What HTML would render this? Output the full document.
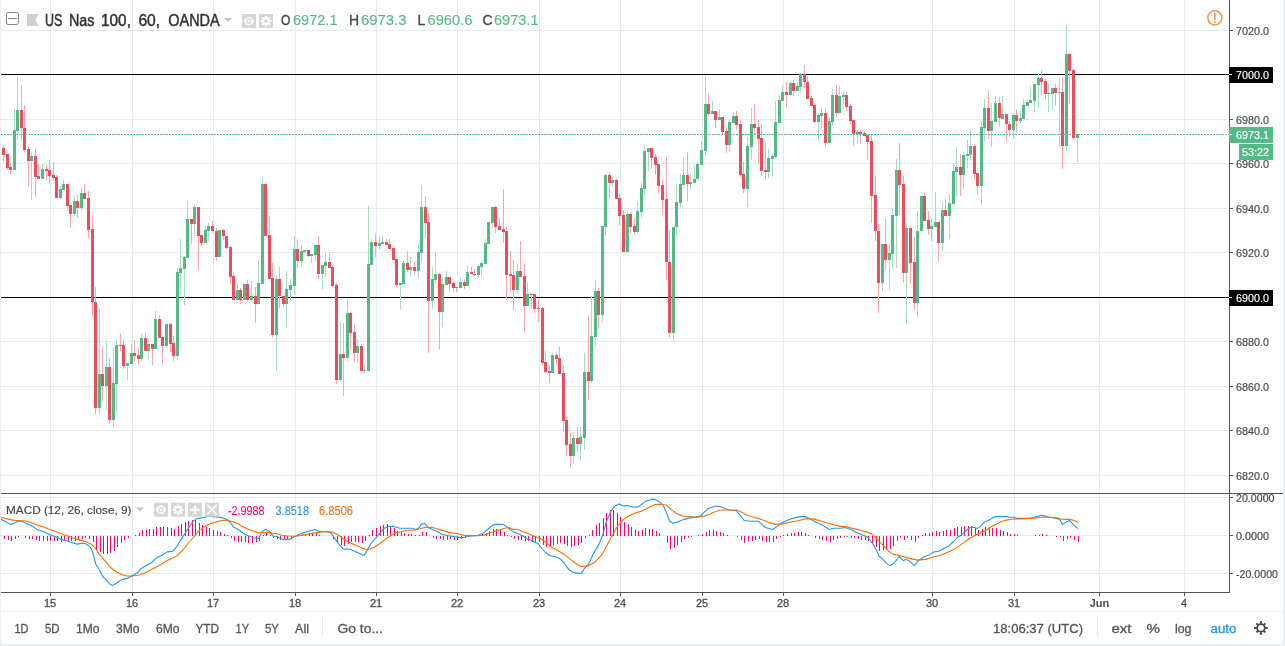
<!DOCTYPE html>
<html><head><meta charset="utf-8"><title>US Nas 100, 60, OANDA</title>
<style>html,body{margin:0;padding:0;background:#eceff2;overflow:hidden}svg{display:block}text{font-family:"Liberation Sans",sans-serif;}</style></head><body>
<svg width="1285" height="646" viewBox="0 0 1285 646">
<rect x="0" y="0" width="1285" height="646" fill="#eceff2"/>
<path d="M1 0H1283V641Q1283 644 1280 644H4Q1 644 1 641Z" fill="#fff"/>
<g shape-rendering="crispEdges">
<rect x="1" y="30" width="1227" height="1" fill="#e1ecf2"/>
<rect x="1" y="119" width="1227" height="1" fill="#e1ecf2"/>
<rect x="1" y="163" width="1227" height="1" fill="#e1ecf2"/>
<rect x="1" y="208" width="1227" height="1" fill="#e1ecf2"/>
<rect x="1" y="252" width="1227" height="1" fill="#e1ecf2"/>
<rect x="1" y="341" width="1227" height="1" fill="#e1ecf2"/>
<rect x="1" y="386" width="1227" height="1" fill="#e1ecf2"/>
<rect x="1" y="430" width="1227" height="1" fill="#e1ecf2"/>
<rect x="1" y="475" width="1227" height="1" fill="#e1ecf2"/>
<rect x="1" y="497" width="1227" height="1" fill="#e1ecf2"/>
<rect x="1" y="535" width="1227" height="1" fill="#e1ecf2"/>
<rect x="1" y="573" width="1227" height="1" fill="#e1ecf2"/>
<rect x="50" y="0" width="1" height="492" fill="#e1ecf2"/>
<rect x="50" y="494" width="1" height="98" fill="#e1ecf2"/>
<rect x="132" y="0" width="1" height="492" fill="#e1ecf2"/>
<rect x="132" y="494" width="1" height="98" fill="#e1ecf2"/>
<rect x="213" y="0" width="1" height="492" fill="#e1ecf2"/>
<rect x="213" y="494" width="1" height="98" fill="#e1ecf2"/>
<rect x="295" y="0" width="1" height="492" fill="#e1ecf2"/>
<rect x="295" y="494" width="1" height="98" fill="#e1ecf2"/>
<rect x="376" y="0" width="1" height="492" fill="#e1ecf2"/>
<rect x="376" y="494" width="1" height="98" fill="#e1ecf2"/>
<rect x="457" y="0" width="1" height="492" fill="#e1ecf2"/>
<rect x="457" y="494" width="1" height="98" fill="#e1ecf2"/>
<rect x="539" y="0" width="1" height="492" fill="#e1ecf2"/>
<rect x="539" y="494" width="1" height="98" fill="#e1ecf2"/>
<rect x="620" y="0" width="1" height="492" fill="#e1ecf2"/>
<rect x="620" y="494" width="1" height="98" fill="#e1ecf2"/>
<rect x="702" y="0" width="1" height="492" fill="#e1ecf2"/>
<rect x="702" y="494" width="1" height="98" fill="#e1ecf2"/>
<rect x="783" y="0" width="1" height="492" fill="#e1ecf2"/>
<rect x="783" y="494" width="1" height="98" fill="#e1ecf2"/>
<rect x="932" y="0" width="1" height="492" fill="#e1ecf2"/>
<rect x="932" y="494" width="1" height="98" fill="#e1ecf2"/>
<rect x="1014" y="0" width="1" height="492" fill="#e1ecf2"/>
<rect x="1014" y="494" width="1" height="98" fill="#e1ecf2"/>
<rect x="1099" y="0" width="1" height="492" fill="#e1ecf2"/>
<rect x="1099" y="494" width="1" height="98" fill="#e1ecf2"/>
<rect x="1184" y="0" width="1" height="492" fill="#e1ecf2"/>
<rect x="1184" y="494" width="1" height="98" fill="#e1ecf2"/>
<rect x="1" y="74" width="1228" height="1" fill="#000"/>
<rect x="1" y="297" width="1228" height="1" fill="#000"/>
<g id="wicks"><rect x="3" y="145" width="1" height="17" fill="#f5a6ae"/><rect x="7" y="154" width="1" height="16" fill="#f5a6ae"/><rect x="10" y="163" width="1" height="11" fill="#f5a6ae"/><rect x="14" y="109" width="1" height="61" fill="#a9dcc3"/><rect x="17" y="77" width="1" height="63" fill="#a9dcc3"/><rect x="21" y="85" width="1" height="55" fill="#f5a6ae"/><rect x="24" y="105" width="1" height="47" fill="#f5a6ae"/><rect x="28" y="147" width="1" height="40" fill="#f5a6ae"/><rect x="31" y="153" width="1" height="47" fill="#a9dcc3"/><rect x="35" y="149" width="1" height="48" fill="#f5a6ae"/><rect x="38" y="164" width="1" height="15" fill="#f5a6ae"/><rect x="42" y="164" width="1" height="15" fill="#a9dcc3"/><rect x="46" y="166" width="1" height="14" fill="#f5a6ae"/><rect x="49" y="160" width="1" height="23" fill="#f5a6ae"/><rect x="53" y="162" width="1" height="18" fill="#f5a6ae"/><rect x="56" y="175" width="1" height="23" fill="#f5a6ae"/><rect x="60" y="186" width="1" height="13" fill="#a9dcc3"/><rect x="63" y="180" width="1" height="10" fill="#a9dcc3"/><rect x="67" y="184" width="1" height="27" fill="#f5a6ae"/><rect x="70" y="205" width="1" height="23" fill="#f5a6ae"/><rect x="74" y="196" width="1" height="20" fill="#a9dcc3"/><rect x="77" y="195" width="1" height="23" fill="#f5a6ae"/><rect x="81" y="187" width="1" height="24" fill="#a9dcc3"/><rect x="84" y="184" width="1" height="15" fill="#f5a6ae"/><rect x="88" y="191" width="1" height="47" fill="#f5a6ae"/><rect x="92" y="215" width="1" height="102" fill="#f5a6ae"/><rect x="95" y="287" width="1" height="127" fill="#f5a6ae"/><rect x="99" y="308" width="1" height="106" fill="#a9dcc3"/><rect x="102" y="346" width="1" height="55" fill="#f5a6ae"/><rect x="106" y="341" width="1" height="69" fill="#a9dcc3"/><rect x="109" y="358" width="1" height="66" fill="#f5a6ae"/><rect x="113" y="347" width="1" height="80" fill="#a9dcc3"/><rect x="116" y="339" width="1" height="74" fill="#a9dcc3"/><rect x="120" y="333" width="1" height="18" fill="#f5a6ae"/><rect x="123" y="339" width="1" height="30" fill="#f5a6ae"/><rect x="127" y="363" width="1" height="17" fill="#a9dcc3"/><rect x="131" y="344" width="1" height="20" fill="#a9dcc3"/><rect x="134" y="340" width="1" height="21" fill="#f5a6ae"/><rect x="138" y="347" width="1" height="18" fill="#f5a6ae"/><rect x="141" y="334" width="1" height="27" fill="#a9dcc3"/><rect x="145" y="333" width="1" height="18" fill="#f5a6ae"/><rect x="148" y="339" width="1" height="20" fill="#a9dcc3"/><rect x="152" y="344" width="1" height="21" fill="#f5a6ae"/><rect x="155" y="311" width="1" height="38" fill="#a9dcc3"/><rect x="159" y="315" width="1" height="23" fill="#f5a6ae"/><rect x="162" y="337" width="1" height="28" fill="#f5a6ae"/><rect x="166" y="323" width="1" height="26" fill="#a9dcc3"/><rect x="170" y="323" width="1" height="29" fill="#f5a6ae"/><rect x="173" y="336" width="1" height="25" fill="#f5a6ae"/><rect x="177" y="267" width="1" height="93" fill="#a9dcc3"/><rect x="180" y="239" width="1" height="56" fill="#a9dcc3"/><rect x="184" y="256" width="1" height="49" fill="#a9dcc3"/><rect x="187" y="201" width="1" height="57" fill="#a9dcc3"/><rect x="191" y="219" width="1" height="25" fill="#f5a6ae"/><rect x="194" y="204" width="1" height="32" fill="#a9dcc3"/><rect x="198" y="207" width="1" height="63" fill="#f5a6ae"/><rect x="201" y="235" width="1" height="11" fill="#f5a6ae"/><rect x="205" y="226" width="1" height="17" fill="#a9dcc3"/><rect x="208" y="223" width="1" height="18" fill="#a9dcc3"/><rect x="212" y="221" width="1" height="12" fill="#f5a6ae"/><rect x="216" y="228" width="1" height="33" fill="#f5a6ae"/><rect x="223" y="229" width="1" height="11" fill="#f5a6ae"/><rect x="226" y="236" width="1" height="13" fill="#f5a6ae"/><rect x="230" y="246" width="1" height="38" fill="#f5a6ae"/><rect x="233" y="273" width="1" height="27" fill="#f5a6ae"/><rect x="237" y="283" width="1" height="17" fill="#a9dcc3"/><rect x="240" y="288" width="1" height="16" fill="#f5a6ae"/><rect x="244" y="283" width="1" height="17" fill="#a9dcc3"/><rect x="247" y="280" width="1" height="22" fill="#f5a6ae"/><rect x="251" y="281" width="1" height="21" fill="#a9dcc3"/><rect x="255" y="287" width="1" height="36" fill="#f5a6ae"/><rect x="258" y="260" width="1" height="44" fill="#a9dcc3"/><rect x="262" y="178" width="1" height="106" fill="#a9dcc3"/><rect x="265" y="183" width="1" height="53" fill="#f5a6ae"/><rect x="269" y="216" width="1" height="63" fill="#f5a6ae"/><rect x="272" y="263" width="1" height="74" fill="#f5a6ae"/><rect x="276" y="275" width="1" height="96" fill="#a9dcc3"/><rect x="279" y="267" width="1" height="41" fill="#f5a6ae"/><rect x="283" y="296" width="1" height="11" fill="#f5a6ae"/><rect x="286" y="271" width="1" height="56" fill="#a9dcc3"/><rect x="290" y="279" width="1" height="21" fill="#a9dcc3"/><rect x="294" y="236" width="1" height="59" fill="#a9dcc3"/><rect x="297" y="239" width="1" height="29" fill="#f5a6ae"/><rect x="301" y="245" width="1" height="22" fill="#a9dcc3"/><rect x="308" y="250" width="1" height="7" fill="#f5a6ae"/><rect x="311" y="254" width="1" height="9" fill="#a9dcc3"/><rect x="315" y="245" width="1" height="16" fill="#a9dcc3"/><rect x="318" y="236" width="1" height="43" fill="#f5a6ae"/><rect x="322" y="265" width="1" height="24" fill="#a9dcc3"/><rect x="325" y="252" width="1" height="25" fill="#a9dcc3"/><rect x="329" y="254" width="1" height="14" fill="#f5a6ae"/><rect x="332" y="265" width="1" height="22" fill="#f5a6ae"/><rect x="336" y="283" width="1" height="101" fill="#f5a6ae"/><rect x="340" y="322" width="1" height="60" fill="#a9dcc3"/><rect x="343" y="323" width="1" height="73" fill="#f5a6ae"/><rect x="347" y="299" width="1" height="62" fill="#a9dcc3"/><rect x="350" y="312" width="1" height="38" fill="#f5a6ae"/><rect x="354" y="324" width="1" height="38" fill="#f5a6ae"/><rect x="357" y="339" width="1" height="24" fill="#a9dcc3"/><rect x="361" y="344" width="1" height="29" fill="#f5a6ae"/><rect x="364" y="363" width="1" height="10" fill="#a9dcc3"/><rect x="368" y="206" width="1" height="165" fill="#a9dcc3"/><rect x="371" y="239" width="1" height="26" fill="#a9dcc3"/><rect x="375" y="234" width="1" height="23" fill="#f5a6ae"/><rect x="379" y="236" width="1" height="14" fill="#a9dcc3"/><rect x="382" y="236" width="1" height="8" fill="#a9dcc3"/><rect x="386" y="239" width="1" height="6" fill="#f5a6ae"/><rect x="389" y="239" width="1" height="10" fill="#f5a6ae"/><rect x="393" y="247" width="1" height="13" fill="#f5a6ae"/><rect x="396" y="259" width="1" height="28" fill="#f5a6ae"/><rect x="400" y="283" width="1" height="27" fill="#a9dcc3"/><rect x="403" y="260" width="1" height="24" fill="#a9dcc3"/><rect x="407" y="251" width="1" height="21" fill="#f5a6ae"/><rect x="410" y="257" width="1" height="19" fill="#a9dcc3"/><rect x="414" y="261" width="1" height="13" fill="#f5a6ae"/><rect x="418" y="243" width="1" height="35" fill="#a9dcc3"/><rect x="421" y="185" width="1" height="77" fill="#a9dcc3"/><rect x="425" y="196" width="1" height="42" fill="#f5a6ae"/><rect x="428" y="213" width="1" height="140" fill="#f5a6ae"/><rect x="432" y="267" width="1" height="42" fill="#a9dcc3"/><rect x="435" y="252" width="1" height="32" fill="#a9dcc3"/><rect x="439" y="273" width="1" height="76" fill="#f5a6ae"/><rect x="442" y="278" width="1" height="49" fill="#a9dcc3"/><rect x="446" y="271" width="1" height="14" fill="#a9dcc3"/><rect x="449" y="277" width="1" height="14" fill="#f5a6ae"/><rect x="453" y="282" width="1" height="10" fill="#f5a6ae"/><rect x="456" y="287" width="1" height="5" fill="#f5a6ae"/><rect x="460" y="277" width="1" height="11" fill="#a9dcc3"/><rect x="464" y="279" width="1" height="10" fill="#f5a6ae"/><rect x="467" y="266" width="1" height="20" fill="#a9dcc3"/><rect x="471" y="267" width="1" height="7" fill="#f5a6ae"/><rect x="474" y="269" width="1" height="7" fill="#f5a6ae"/><rect x="478" y="265" width="1" height="13" fill="#a9dcc3"/><rect x="481" y="261" width="1" height="17" fill="#a9dcc3"/><rect x="485" y="239" width="1" height="25" fill="#a9dcc3"/><rect x="492" y="207" width="1" height="21" fill="#a9dcc3"/><rect x="495" y="206" width="1" height="27" fill="#f5a6ae"/><rect x="499" y="218" width="1" height="12" fill="#f5a6ae"/><rect x="503" y="189" width="1" height="54" fill="#f5a6ae"/><rect x="506" y="227" width="1" height="71" fill="#f5a6ae"/><rect x="510" y="251" width="1" height="42" fill="#f5a6ae"/><rect x="513" y="260" width="1" height="50" fill="#f5a6ae"/><rect x="517" y="264" width="1" height="30" fill="#a9dcc3"/><rect x="520" y="241" width="1" height="36" fill="#f5a6ae"/><rect x="524" y="263" width="1" height="70" fill="#f5a6ae"/><rect x="527" y="282" width="1" height="24" fill="#a9dcc3"/><rect x="531" y="293" width="1" height="16" fill="#f5a6ae"/><rect x="534" y="294" width="1" height="19" fill="#f5a6ae"/><rect x="538" y="299" width="1" height="23" fill="#f5a6ae"/><rect x="542" y="307" width="1" height="58" fill="#f5a6ae"/><rect x="545" y="351" width="1" height="22" fill="#f5a6ae"/><rect x="549" y="366" width="1" height="17" fill="#f5a6ae"/><rect x="552" y="353" width="1" height="20" fill="#a9dcc3"/><rect x="556" y="353" width="1" height="12" fill="#f5a6ae"/><rect x="559" y="347" width="1" height="27" fill="#f5a6ae"/><rect x="563" y="365" width="1" height="67" fill="#f5a6ae"/><rect x="566" y="417" width="1" height="39" fill="#f5a6ae"/><rect x="570" y="433" width="1" height="34" fill="#f5a6ae"/><rect x="573" y="432" width="1" height="32" fill="#a9dcc3"/><rect x="577" y="427" width="1" height="26" fill="#f5a6ae"/><rect x="580" y="427" width="1" height="33" fill="#a9dcc3"/><rect x="584" y="353" width="1" height="97" fill="#a9dcc3"/><rect x="588" y="315" width="1" height="85" fill="#f5a6ae"/><rect x="591" y="296" width="1" height="87" fill="#a9dcc3"/><rect x="595" y="280" width="1" height="66" fill="#a9dcc3"/><rect x="598" y="288" width="1" height="41" fill="#f5a6ae"/><rect x="602" y="226" width="1" height="96" fill="#a9dcc3"/><rect x="605" y="174" width="1" height="62" fill="#a9dcc3"/><rect x="609" y="172" width="1" height="27" fill="#f5a6ae"/><rect x="612" y="177" width="1" height="10" fill="#a9dcc3"/><rect x="616" y="179" width="1" height="20" fill="#f5a6ae"/><rect x="619" y="193" width="1" height="32" fill="#f5a6ae"/><rect x="623" y="210" width="1" height="42" fill="#f5a6ae"/><rect x="627" y="211" width="1" height="41" fill="#a9dcc3"/><rect x="630" y="212" width="1" height="22" fill="#f5a6ae"/><rect x="634" y="218" width="1" height="16" fill="#f5a6ae"/><rect x="637" y="201" width="1" height="32" fill="#a9dcc3"/><rect x="641" y="182" width="1" height="36" fill="#a9dcc3"/><rect x="644" y="145" width="1" height="52" fill="#a9dcc3"/><rect x="648" y="148" width="1" height="23" fill="#a9dcc3"/><rect x="651" y="148" width="1" height="21" fill="#f5a6ae"/><rect x="655" y="154" width="1" height="21" fill="#f5a6ae"/><rect x="658" y="164" width="1" height="29" fill="#f5a6ae"/><rect x="662" y="180" width="1" height="35" fill="#f5a6ae"/><rect x="666" y="157" width="1" height="123" fill="#f5a6ae"/><rect x="669" y="230" width="1" height="108" fill="#f5a6ae"/><rect x="673" y="227" width="1" height="114" fill="#a9dcc3"/><rect x="676" y="185" width="1" height="52" fill="#a9dcc3"/><rect x="680" y="174" width="1" height="33" fill="#a9dcc3"/><rect x="683" y="157" width="1" height="28" fill="#a9dcc3"/><rect x="687" y="152" width="1" height="49" fill="#f5a6ae"/><rect x="690" y="174" width="1" height="15" fill="#a9dcc3"/><rect x="694" y="166" width="1" height="17" fill="#a9dcc3"/><rect x="697" y="162" width="1" height="17" fill="#a9dcc3"/><rect x="701" y="141" width="1" height="24" fill="#a9dcc3"/><rect x="705" y="76" width="1" height="81" fill="#a9dcc3"/><rect x="708" y="94" width="1" height="21" fill="#f5a6ae"/><rect x="712" y="101" width="1" height="13" fill="#a9dcc3"/><rect x="715" y="111" width="1" height="17" fill="#f5a6ae"/><rect x="719" y="109" width="1" height="11" fill="#a9dcc3"/><rect x="722" y="117" width="1" height="17" fill="#f5a6ae"/><rect x="726" y="127" width="1" height="26" fill="#f5a6ae"/><rect x="729" y="120" width="1" height="32" fill="#a9dcc3"/><rect x="733" y="112" width="1" height="12" fill="#a9dcc3"/><rect x="736" y="111" width="1" height="19" fill="#f5a6ae"/><rect x="740" y="120" width="1" height="57" fill="#f5a6ae"/><rect x="743" y="162" width="1" height="31" fill="#f5a6ae"/><rect x="747" y="137" width="1" height="70" fill="#a9dcc3"/><rect x="751" y="108" width="1" height="52" fill="#a9dcc3"/><rect x="754" y="104" width="1" height="30" fill="#f5a6ae"/><rect x="758" y="120" width="1" height="43" fill="#f5a6ae"/><rect x="761" y="124" width="1" height="52" fill="#f5a6ae"/><rect x="765" y="143" width="1" height="36" fill="#f5a6ae"/><rect x="768" y="149" width="1" height="29" fill="#a9dcc3"/><rect x="772" y="154" width="1" height="22" fill="#a9dcc3"/><rect x="775" y="101" width="1" height="57" fill="#a9dcc3"/><rect x="779" y="95" width="1" height="28" fill="#a9dcc3"/><rect x="782" y="86" width="1" height="15" fill="#a9dcc3"/><rect x="786" y="82" width="1" height="26" fill="#f5a6ae"/><rect x="790" y="82" width="1" height="14" fill="#a9dcc3"/><rect x="793" y="80" width="1" height="16" fill="#f5a6ae"/><rect x="797" y="83" width="1" height="8" fill="#a9dcc3"/><rect x="800" y="73" width="1" height="20" fill="#a9dcc3"/><rect x="804" y="65" width="1" height="23" fill="#f5a6ae"/><rect x="807" y="77" width="1" height="22" fill="#f5a6ae"/><rect x="811" y="95" width="1" height="11" fill="#f5a6ae"/><rect x="814" y="103" width="1" height="20" fill="#f5a6ae"/><rect x="818" y="113" width="1" height="28" fill="#a9dcc3"/><rect x="821" y="108" width="1" height="22" fill="#a9dcc3"/><rect x="825" y="108" width="1" height="39" fill="#f5a6ae"/><rect x="829" y="118" width="1" height="25" fill="#a9dcc3"/><rect x="832" y="89" width="1" height="37" fill="#a9dcc3"/><rect x="836" y="85" width="1" height="32" fill="#f5a6ae"/><rect x="839" y="86" width="1" height="28" fill="#a9dcc3"/><rect x="843" y="92" width="1" height="17" fill="#a9dcc3"/><rect x="846" y="92" width="1" height="19" fill="#f5a6ae"/><rect x="850" y="104" width="1" height="20" fill="#f5a6ae"/><rect x="853" y="120" width="1" height="26" fill="#f5a6ae"/><rect x="857" y="130" width="1" height="14" fill="#a9dcc3"/><rect x="860" y="130" width="1" height="13" fill="#f5a6ae"/><rect x="864" y="131" width="1" height="5" fill="#f5a6ae"/><rect x="867" y="135" width="1" height="25" fill="#f5a6ae"/><rect x="871" y="135" width="1" height="88" fill="#f5a6ae"/><rect x="875" y="176" width="1" height="65" fill="#f5a6ae"/><rect x="878" y="224" width="1" height="89" fill="#f5a6ae"/><rect x="882" y="244" width="1" height="47" fill="#a9dcc3"/><rect x="885" y="218" width="1" height="52" fill="#f5a6ae"/><rect x="889" y="243" width="1" height="47" fill="#a9dcc3"/><rect x="892" y="208" width="1" height="61" fill="#a9dcc3"/><rect x="896" y="159" width="1" height="109" fill="#a9dcc3"/><rect x="899" y="143" width="1" height="72" fill="#f5a6ae"/><rect x="903" y="176" width="1" height="107" fill="#f5a6ae"/><rect x="906" y="223" width="1" height="101" fill="#a9dcc3"/><rect x="910" y="227" width="1" height="57" fill="#f5a6ae"/><rect x="914" y="237" width="1" height="73" fill="#f5a6ae"/><rect x="917" y="211" width="1" height="106" fill="#a9dcc3"/><rect x="921" y="195" width="1" height="36" fill="#a9dcc3"/><rect x="924" y="193" width="1" height="28" fill="#f5a6ae"/><rect x="928" y="211" width="1" height="24" fill="#f5a6ae"/><rect x="931" y="219" width="1" height="22" fill="#a9dcc3"/><rect x="935" y="192" width="1" height="35" fill="#a9dcc3"/><rect x="938" y="222" width="1" height="40" fill="#f5a6ae"/><rect x="942" y="202" width="1" height="49" fill="#a9dcc3"/><rect x="945" y="199" width="1" height="17" fill="#f5a6ae"/><rect x="949" y="195" width="1" height="44" fill="#a9dcc3"/><rect x="953" y="163" width="1" height="41" fill="#a9dcc3"/><rect x="956" y="147" width="1" height="49" fill="#a9dcc3"/><rect x="960" y="154" width="1" height="42" fill="#f5a6ae"/><rect x="963" y="152" width="1" height="37" fill="#a9dcc3"/><rect x="967" y="140" width="1" height="28" fill="#a9dcc3"/><rect x="970" y="130" width="1" height="30" fill="#a9dcc3"/><rect x="974" y="144" width="1" height="35" fill="#f5a6ae"/><rect x="977" y="173" width="1" height="22" fill="#f5a6ae"/><rect x="981" y="121" width="1" height="84" fill="#a9dcc3"/><rect x="984" y="99" width="1" height="42" fill="#a9dcc3"/><rect x="988" y="90" width="1" height="49" fill="#f5a6ae"/><rect x="991" y="103" width="1" height="44" fill="#a9dcc3"/><rect x="995" y="96" width="1" height="26" fill="#a9dcc3"/><rect x="999" y="97" width="1" height="29" fill="#f5a6ae"/><rect x="1002" y="96" width="1" height="23" fill="#a9dcc3"/><rect x="1006" y="114" width="1" height="28" fill="#f5a6ae"/><rect x="1009" y="121" width="1" height="16" fill="#f5a6ae"/><rect x="1013" y="113" width="1" height="26" fill="#a9dcc3"/><rect x="1016" y="109" width="1" height="24" fill="#f5a6ae"/><rect x="1020" y="111" width="1" height="13" fill="#a9dcc3"/><rect x="1023" y="99" width="1" height="20" fill="#a9dcc3"/><rect x="1027" y="99" width="1" height="7" fill="#a9dcc3"/><rect x="1030" y="86" width="1" height="17" fill="#a9dcc3"/><rect x="1034" y="84" width="1" height="28" fill="#a9dcc3"/><rect x="1038" y="73" width="1" height="35" fill="#a9dcc3"/><rect x="1041" y="70" width="1" height="26" fill="#f5a6ae"/><rect x="1045" y="79" width="1" height="20" fill="#f5a6ae"/><rect x="1048" y="83" width="1" height="29" fill="#a9dcc3"/><rect x="1052" y="88" width="1" height="22" fill="#a9dcc3"/><rect x="1055" y="84" width="1" height="22" fill="#f5a6ae"/><rect x="1059" y="78" width="1" height="70" fill="#a9dcc3"/><rect x="1062" y="78" width="1" height="91" fill="#f5a6ae"/><rect x="1066" y="25" width="1" height="126" fill="#a9dcc3"/><rect x="1069" y="53" width="1" height="51" fill="#f5a6ae"/><rect x="1073" y="69" width="1" height="71" fill="#f5a6ae"/><rect x="1077" y="134" width="1" height="28" fill="#a9dcc3"/></g>
<g id="bodies"><rect x="2" y="148" width="3" height="7" fill="#eb4d5c"/><rect x="6" y="154" width="3" height="14" fill="#eb4d5c"/><rect x="9" y="167" width="3" height="3" fill="#eb4d5c"/><rect x="13" y="130" width="3" height="40" fill="#53b987"/><rect x="16" y="110" width="3" height="21" fill="#53b987"/><rect x="20" y="110" width="3" height="18" fill="#eb4d5c"/><rect x="23" y="128" width="3" height="22" fill="#eb4d5c"/><rect x="27" y="149" width="3" height="12" fill="#eb4d5c"/><rect x="30" y="156" width="3" height="5" fill="#53b987"/><rect x="34" y="156" width="3" height="21" fill="#eb4d5c"/><rect x="37" y="176" width="3" height="3" fill="#eb4d5c"/><rect x="41" y="169" width="3" height="10" fill="#53b987"/><rect x="45" y="169" width="3" height="2" fill="#eb4d5c"/><rect x="48" y="170" width="3" height="6" fill="#eb4d5c"/><rect x="52" y="175" width="3" height="3" fill="#eb4d5c"/><rect x="55" y="177" width="3" height="21" fill="#eb4d5c"/><rect x="59" y="189" width="3" height="9" fill="#53b987"/><rect x="62" y="184" width="3" height="6" fill="#53b987"/><rect x="66" y="184" width="3" height="22" fill="#eb4d5c"/><rect x="69" y="205" width="3" height="9" fill="#eb4d5c"/><rect x="73" y="201" width="3" height="13" fill="#53b987"/><rect x="76" y="201" width="3" height="7" fill="#eb4d5c"/><rect x="80" y="193" width="3" height="15" fill="#53b987"/><rect x="83" y="193" width="3" height="6" fill="#eb4d5c"/><rect x="87" y="198" width="3" height="32" fill="#eb4d5c"/><rect x="91" y="229" width="3" height="73" fill="#eb4d5c"/><rect x="94" y="302" width="3" height="106" fill="#eb4d5c"/><rect x="98" y="374" width="3" height="34" fill="#53b987"/><rect x="101" y="374" width="3" height="12" fill="#eb4d5c"/><rect x="105" y="367" width="3" height="19" fill="#53b987"/><rect x="108" y="367" width="3" height="53" fill="#eb4d5c"/><rect x="112" y="383" width="3" height="37" fill="#53b987"/><rect x="115" y="345" width="3" height="39" fill="#53b987"/><rect x="119" y="345" width="3" height="1" fill="#eb4d5c"/><rect x="122" y="345" width="3" height="21" fill="#eb4d5c"/><rect x="126" y="363" width="3" height="3" fill="#53b987"/><rect x="130" y="353" width="3" height="11" fill="#53b987"/><rect x="133" y="353" width="3" height="3" fill="#eb4d5c"/><rect x="137" y="355" width="3" height="4" fill="#eb4d5c"/><rect x="140" y="338" width="3" height="21" fill="#53b987"/><rect x="144" y="338" width="3" height="13" fill="#eb4d5c"/><rect x="147" y="344" width="3" height="7" fill="#53b987"/><rect x="151" y="344" width="3" height="5" fill="#eb4d5c"/><rect x="154" y="319" width="3" height="30" fill="#53b987"/><rect x="158" y="319" width="3" height="19" fill="#eb4d5c"/><rect x="161" y="337" width="3" height="9" fill="#eb4d5c"/><rect x="165" y="324" width="3" height="22" fill="#53b987"/><rect x="169" y="324" width="3" height="20" fill="#eb4d5c"/><rect x="172" y="343" width="3" height="13" fill="#eb4d5c"/><rect x="176" y="272" width="3" height="84" fill="#53b987"/><rect x="179" y="268" width="3" height="5" fill="#53b987"/><rect x="183" y="257" width="3" height="12" fill="#53b987"/><rect x="186" y="219" width="3" height="39" fill="#53b987"/><rect x="190" y="219" width="3" height="5" fill="#eb4d5c"/><rect x="193" y="207" width="3" height="17" fill="#53b987"/><rect x="197" y="207" width="3" height="29" fill="#eb4d5c"/><rect x="200" y="235" width="3" height="8" fill="#eb4d5c"/><rect x="204" y="230" width="3" height="13" fill="#53b987"/><rect x="207" y="226" width="3" height="5" fill="#53b987"/><rect x="211" y="226" width="3" height="5" fill="#eb4d5c"/><rect x="215" y="231" width="3" height="26" fill="#eb4d5c"/><rect x="218" y="230" width="3" height="27" fill="#53b987"/><rect x="222" y="230" width="3" height="6" fill="#eb4d5c"/><rect x="225" y="236" width="3" height="12" fill="#eb4d5c"/><rect x="229" y="247" width="3" height="30" fill="#eb4d5c"/><rect x="232" y="276" width="3" height="24" fill="#eb4d5c"/><rect x="236" y="290" width="3" height="10" fill="#53b987"/><rect x="239" y="290" width="3" height="10" fill="#eb4d5c"/><rect x="243" y="284" width="3" height="16" fill="#53b987"/><rect x="246" y="284" width="3" height="16" fill="#eb4d5c"/><rect x="250" y="296" width="3" height="4" fill="#53b987"/><rect x="254" y="296" width="3" height="8" fill="#eb4d5c"/><rect x="257" y="283" width="3" height="21" fill="#53b987"/><rect x="261" y="184" width="3" height="100" fill="#53b987"/><rect x="264" y="184" width="3" height="52" fill="#eb4d5c"/><rect x="268" y="235" width="3" height="44" fill="#eb4d5c"/><rect x="271" y="278" width="3" height="57" fill="#eb4d5c"/><rect x="275" y="279" width="3" height="56" fill="#53b987"/><rect x="278" y="279" width="3" height="17" fill="#eb4d5c"/><rect x="282" y="296" width="3" height="8" fill="#eb4d5c"/><rect x="285" y="289" width="3" height="15" fill="#53b987"/><rect x="289" y="285" width="3" height="5" fill="#53b987"/><rect x="293" y="249" width="3" height="37" fill="#53b987"/><rect x="296" y="249" width="3" height="12" fill="#eb4d5c"/><rect x="300" y="251" width="3" height="10" fill="#53b987"/><rect x="303" y="250" width="3" height="2" fill="#53b987"/><rect x="307" y="250" width="3" height="6" fill="#eb4d5c"/><rect x="310" y="254" width="3" height="2" fill="#53b987"/><rect x="314" y="245" width="3" height="10" fill="#53b987"/><rect x="317" y="245" width="3" height="29" fill="#eb4d5c"/><rect x="321" y="265" width="3" height="9" fill="#53b987"/><rect x="324" y="262" width="3" height="4" fill="#53b987"/><rect x="328" y="262" width="3" height="6" fill="#eb4d5c"/><rect x="331" y="267" width="3" height="19" fill="#eb4d5c"/><rect x="335" y="285" width="3" height="95" fill="#eb4d5c"/><rect x="339" y="354" width="3" height="26" fill="#53b987"/><rect x="342" y="354" width="3" height="4" fill="#eb4d5c"/><rect x="346" y="313" width="3" height="45" fill="#53b987"/><rect x="349" y="313" width="3" height="20" fill="#eb4d5c"/><rect x="353" y="332" width="3" height="21" fill="#eb4d5c"/><rect x="356" y="346" width="3" height="7" fill="#53b987"/><rect x="360" y="346" width="3" height="25" fill="#eb4d5c"/><rect x="363" y="370" width="3" height="1" fill="#53b987"/><rect x="367" y="264" width="3" height="107" fill="#53b987"/><rect x="370" y="242" width="3" height="23" fill="#53b987"/><rect x="374" y="242" width="3" height="4" fill="#eb4d5c"/><rect x="378" y="243" width="3" height="3" fill="#53b987"/><rect x="381" y="242" width="3" height="2" fill="#53b987"/><rect x="385" y="242" width="3" height="3" fill="#eb4d5c"/><rect x="388" y="244" width="3" height="5" fill="#eb4d5c"/><rect x="392" y="248" width="3" height="12" fill="#eb4d5c"/><rect x="395" y="259" width="3" height="26" fill="#eb4d5c"/><rect x="399" y="283" width="3" height="2" fill="#53b987"/><rect x="402" y="263" width="3" height="21" fill="#53b987"/><rect x="406" y="263" width="3" height="7" fill="#eb4d5c"/><rect x="409" y="267" width="3" height="3" fill="#53b987"/><rect x="413" y="267" width="3" height="4" fill="#eb4d5c"/><rect x="417" y="252" width="3" height="19" fill="#53b987"/><rect x="420" y="207" width="3" height="46" fill="#53b987"/><rect x="424" y="207" width="3" height="16" fill="#eb4d5c"/><rect x="427" y="222" width="3" height="79" fill="#eb4d5c"/><rect x="431" y="279" width="3" height="22" fill="#53b987"/><rect x="434" y="274" width="3" height="6" fill="#53b987"/><rect x="438" y="274" width="3" height="38" fill="#eb4d5c"/><rect x="441" y="284" width="3" height="28" fill="#53b987"/><rect x="445" y="277" width="3" height="8" fill="#53b987"/><rect x="448" y="277" width="3" height="7" fill="#eb4d5c"/><rect x="452" y="283" width="3" height="5" fill="#eb4d5c"/><rect x="455" y="287" width="3" height="1" fill="#eb4d5c"/><rect x="459" y="282" width="3" height="6" fill="#53b987"/><rect x="463" y="282" width="3" height="4" fill="#eb4d5c"/><rect x="466" y="272" width="3" height="14" fill="#53b987"/><rect x="470" y="272" width="3" height="2" fill="#eb4d5c"/><rect x="473" y="274" width="3" height="1" fill="#eb4d5c"/><rect x="477" y="266" width="3" height="9" fill="#53b987"/><rect x="480" y="263" width="3" height="4" fill="#53b987"/><rect x="484" y="243" width="3" height="21" fill="#53b987"/><rect x="487" y="222" width="3" height="22" fill="#53b987"/><rect x="491" y="207" width="3" height="16" fill="#53b987"/><rect x="494" y="207" width="3" height="20" fill="#eb4d5c"/><rect x="498" y="226" width="3" height="4" fill="#eb4d5c"/><rect x="502" y="229" width="3" height="3" fill="#eb4d5c"/><rect x="505" y="231" width="3" height="44" fill="#eb4d5c"/><rect x="509" y="274" width="3" height="2" fill="#eb4d5c"/><rect x="512" y="275" width="3" height="15" fill="#eb4d5c"/><rect x="516" y="271" width="3" height="19" fill="#53b987"/><rect x="519" y="271" width="3" height="6" fill="#eb4d5c"/><rect x="523" y="276" width="3" height="30" fill="#eb4d5c"/><rect x="526" y="294" width="3" height="12" fill="#53b987"/><rect x="530" y="294" width="3" height="1" fill="#eb4d5c"/><rect x="533" y="294" width="3" height="15" fill="#eb4d5c"/><rect x="537" y="308" width="3" height="1" fill="#eb4d5c"/><rect x="541" y="308" width="3" height="55" fill="#eb4d5c"/><rect x="544" y="362" width="3" height="10" fill="#eb4d5c"/><rect x="548" y="371" width="3" height="2" fill="#eb4d5c"/><rect x="551" y="355" width="3" height="18" fill="#53b987"/><rect x="555" y="355" width="3" height="4" fill="#eb4d5c"/><rect x="558" y="358" width="3" height="16" fill="#eb4d5c"/><rect x="562" y="373" width="3" height="48" fill="#eb4d5c"/><rect x="565" y="420" width="3" height="25" fill="#eb4d5c"/><rect x="569" y="444" width="3" height="12" fill="#eb4d5c"/><rect x="572" y="438" width="3" height="18" fill="#53b987"/><rect x="576" y="438" width="3" height="6" fill="#eb4d5c"/><rect x="579" y="437" width="3" height="7" fill="#53b987"/><rect x="583" y="372" width="3" height="66" fill="#53b987"/><rect x="587" y="372" width="3" height="9" fill="#eb4d5c"/><rect x="590" y="336" width="3" height="45" fill="#53b987"/><rect x="594" y="291" width="3" height="46" fill="#53b987"/><rect x="597" y="291" width="3" height="24" fill="#eb4d5c"/><rect x="601" y="226" width="3" height="89" fill="#53b987"/><rect x="604" y="175" width="3" height="52" fill="#53b987"/><rect x="608" y="175" width="3" height="8" fill="#eb4d5c"/><rect x="611" y="180" width="3" height="3" fill="#53b987"/><rect x="615" y="180" width="3" height="19" fill="#eb4d5c"/><rect x="618" y="198" width="3" height="18" fill="#eb4d5c"/><rect x="622" y="215" width="3" height="37" fill="#eb4d5c"/><rect x="626" y="214" width="3" height="38" fill="#53b987"/><rect x="629" y="214" width="3" height="13" fill="#eb4d5c"/><rect x="633" y="226" width="3" height="6" fill="#eb4d5c"/><rect x="636" y="211" width="3" height="21" fill="#53b987"/><rect x="640" y="188" width="3" height="24" fill="#53b987"/><rect x="643" y="151" width="3" height="38" fill="#53b987"/><rect x="647" y="148" width="3" height="4" fill="#53b987"/><rect x="650" y="148" width="3" height="10" fill="#eb4d5c"/><rect x="654" y="157" width="3" height="8" fill="#eb4d5c"/><rect x="657" y="164" width="3" height="22" fill="#eb4d5c"/><rect x="661" y="185" width="3" height="15" fill="#eb4d5c"/><rect x="665" y="199" width="3" height="63" fill="#eb4d5c"/><rect x="668" y="262" width="3" height="71" fill="#eb4d5c"/><rect x="672" y="227" width="3" height="106" fill="#53b987"/><rect x="675" y="202" width="3" height="25" fill="#53b987"/><rect x="679" y="184" width="3" height="19" fill="#53b987"/><rect x="682" y="175" width="3" height="10" fill="#53b987"/><rect x="686" y="175" width="3" height="9" fill="#eb4d5c"/><rect x="689" y="182" width="3" height="2" fill="#53b987"/><rect x="693" y="179" width="3" height="4" fill="#53b987"/><rect x="696" y="164" width="3" height="15" fill="#53b987"/><rect x="700" y="150" width="3" height="15" fill="#53b987"/><rect x="704" y="104" width="3" height="47" fill="#53b987"/><rect x="707" y="104" width="3" height="10" fill="#eb4d5c"/><rect x="711" y="111" width="3" height="3" fill="#53b987"/><rect x="714" y="111" width="3" height="9" fill="#eb4d5c"/><rect x="718" y="117" width="3" height="3" fill="#53b987"/><rect x="721" y="117" width="3" height="15" fill="#eb4d5c"/><rect x="725" y="131" width="3" height="14" fill="#eb4d5c"/><rect x="728" y="122" width="3" height="23" fill="#53b987"/><rect x="732" y="116" width="3" height="7" fill="#53b987"/><rect x="735" y="116" width="3" height="9" fill="#eb4d5c"/><rect x="739" y="124" width="3" height="51" fill="#eb4d5c"/><rect x="742" y="174" width="3" height="15" fill="#eb4d5c"/><rect x="746" y="146" width="3" height="43" fill="#53b987"/><rect x="750" y="124" width="3" height="23" fill="#53b987"/><rect x="753" y="124" width="3" height="4" fill="#eb4d5c"/><rect x="757" y="127" width="3" height="12" fill="#eb4d5c"/><rect x="760" y="138" width="3" height="33" fill="#eb4d5c"/><rect x="764" y="170" width="3" height="2" fill="#eb4d5c"/><rect x="767" y="158" width="3" height="14" fill="#53b987"/><rect x="771" y="156" width="3" height="3" fill="#53b987"/><rect x="774" y="122" width="3" height="35" fill="#53b987"/><rect x="778" y="100" width="3" height="23" fill="#53b987"/><rect x="781" y="92" width="3" height="9" fill="#53b987"/><rect x="785" y="92" width="3" height="3" fill="#eb4d5c"/><rect x="789" y="83" width="3" height="12" fill="#53b987"/><rect x="792" y="83" width="3" height="8" fill="#eb4d5c"/><rect x="796" y="86" width="3" height="5" fill="#53b987"/><rect x="799" y="74" width="3" height="13" fill="#53b987"/><rect x="803" y="74" width="3" height="8" fill="#eb4d5c"/><rect x="806" y="82" width="3" height="17" fill="#eb4d5c"/><rect x="810" y="98" width="3" height="8" fill="#eb4d5c"/><rect x="813" y="105" width="3" height="17" fill="#eb4d5c"/><rect x="817" y="115" width="3" height="7" fill="#53b987"/><rect x="820" y="113" width="3" height="3" fill="#53b987"/><rect x="824" y="113" width="3" height="30" fill="#eb4d5c"/><rect x="828" y="121" width="3" height="22" fill="#53b987"/><rect x="831" y="95" width="3" height="27" fill="#53b987"/><rect x="835" y="95" width="3" height="18" fill="#eb4d5c"/><rect x="838" y="96" width="3" height="17" fill="#53b987"/><rect x="842" y="95" width="3" height="2" fill="#53b987"/><rect x="845" y="95" width="3" height="12" fill="#eb4d5c"/><rect x="849" y="106" width="3" height="15" fill="#eb4d5c"/><rect x="852" y="120" width="3" height="14" fill="#eb4d5c"/><rect x="856" y="132" width="3" height="2" fill="#53b987"/><rect x="859" y="132" width="3" height="2" fill="#eb4d5c"/><rect x="863" y="133" width="3" height="3" fill="#eb4d5c"/><rect x="866" y="135" width="3" height="7" fill="#eb4d5c"/><rect x="870" y="141" width="3" height="55" fill="#eb4d5c"/><rect x="874" y="195" width="3" height="36" fill="#eb4d5c"/><rect x="877" y="231" width="3" height="52" fill="#eb4d5c"/><rect x="881" y="244" width="3" height="39" fill="#53b987"/><rect x="884" y="244" width="3" height="16" fill="#eb4d5c"/><rect x="888" y="253" width="3" height="7" fill="#53b987"/><rect x="891" y="215" width="3" height="39" fill="#53b987"/><rect x="895" y="170" width="3" height="46" fill="#53b987"/><rect x="898" y="170" width="3" height="15" fill="#eb4d5c"/><rect x="902" y="184" width="3" height="89" fill="#eb4d5c"/><rect x="905" y="228" width="3" height="45" fill="#53b987"/><rect x="909" y="228" width="3" height="35" fill="#eb4d5c"/><rect x="913" y="262" width="3" height="41" fill="#eb4d5c"/><rect x="916" y="231" width="3" height="72" fill="#53b987"/><rect x="920" y="196" width="3" height="35" fill="#53b987"/><rect x="923" y="196" width="3" height="25" fill="#eb4d5c"/><rect x="927" y="220" width="3" height="9" fill="#eb4d5c"/><rect x="930" y="226" width="3" height="3" fill="#53b987"/><rect x="934" y="222" width="3" height="5" fill="#53b987"/><rect x="937" y="222" width="3" height="21" fill="#eb4d5c"/><rect x="941" y="210" width="3" height="33" fill="#53b987"/><rect x="944" y="210" width="3" height="6" fill="#eb4d5c"/><rect x="948" y="203" width="3" height="13" fill="#53b987"/><rect x="952" y="171" width="3" height="33" fill="#53b987"/><rect x="955" y="167" width="3" height="5" fill="#53b987"/><rect x="959" y="167" width="3" height="8" fill="#eb4d5c"/><rect x="962" y="155" width="3" height="20" fill="#53b987"/><rect x="966" y="154" width="3" height="2" fill="#53b987"/><rect x="969" y="146" width="3" height="9" fill="#53b987"/><rect x="973" y="146" width="3" height="28" fill="#eb4d5c"/><rect x="976" y="173" width="3" height="13" fill="#eb4d5c"/><rect x="980" y="127" width="3" height="59" fill="#53b987"/><rect x="983" y="108" width="3" height="20" fill="#53b987"/><rect x="987" y="108" width="3" height="23" fill="#eb4d5c"/><rect x="990" y="121" width="3" height="10" fill="#53b987"/><rect x="994" y="103" width="3" height="19" fill="#53b987"/><rect x="998" y="103" width="3" height="15" fill="#eb4d5c"/><rect x="1001" y="114" width="3" height="5" fill="#53b987"/><rect x="1005" y="114" width="3" height="10" fill="#eb4d5c"/><rect x="1008" y="124" width="3" height="6" fill="#eb4d5c"/><rect x="1012" y="115" width="3" height="15" fill="#53b987"/><rect x="1015" y="115" width="3" height="6" fill="#eb4d5c"/><rect x="1019" y="118" width="3" height="3" fill="#53b987"/><rect x="1022" y="105" width="3" height="14" fill="#53b987"/><rect x="1026" y="102" width="3" height="4" fill="#53b987"/><rect x="1029" y="100" width="3" height="3" fill="#53b987"/><rect x="1033" y="84" width="3" height="17" fill="#53b987"/><rect x="1037" y="78" width="3" height="7" fill="#53b987"/><rect x="1040" y="78" width="3" height="4" fill="#eb4d5c"/><rect x="1044" y="81" width="3" height="13" fill="#eb4d5c"/><rect x="1047" y="93" width="3" height="1" fill="#53b987"/><rect x="1051" y="88" width="3" height="6" fill="#53b987"/><rect x="1054" y="88" width="3" height="5" fill="#eb4d5c"/><rect x="1058" y="92" width="3" height="1" fill="#53b987"/><rect x="1061" y="92" width="3" height="54" fill="#eb4d5c"/><rect x="1065" y="54" width="3" height="92" fill="#53b987"/><rect x="1068" y="54" width="3" height="17" fill="#eb4d5c"/><rect x="1072" y="70" width="3" height="68" fill="#eb4d5c"/><rect x="1076" y="134" width="3" height="4" fill="#53b987"/></g>
<g id="hist"><rect x="4" y="536" width="1" height="3" fill="#ff006e"/><rect x="8" y="536" width="1" height="4" fill="#ff006e"/><rect x="11" y="536" width="1" height="5" fill="#ff006e"/><rect x="15" y="536" width="1" height="3" fill="#ff006e"/><rect x="18" y="536" width="1" height="1" fill="#ff006e"/><rect x="25" y="536" width="1" height="2" fill="#ff006e"/><rect x="29" y="536" width="1" height="3" fill="#ff006e"/><rect x="32" y="536" width="1" height="3" fill="#ff006e"/><rect x="36" y="536" width="1" height="4" fill="#ff006e"/><rect x="39" y="536" width="1" height="5" fill="#ff006e"/><rect x="43" y="536" width="1" height="5" fill="#ff006e"/><rect x="47" y="536" width="1" height="5" fill="#ff006e"/><rect x="50" y="536" width="1" height="5" fill="#ff006e"/><rect x="54" y="536" width="1" height="5" fill="#ff006e"/><rect x="57" y="536" width="1" height="5" fill="#ff006e"/><rect x="61" y="536" width="1" height="6" fill="#ff006e"/><rect x="64" y="536" width="1" height="5" fill="#ff006e"/><rect x="68" y="536" width="1" height="5" fill="#ff006e"/><rect x="71" y="536" width="1" height="5" fill="#ff006e"/><rect x="75" y="536" width="1" height="5" fill="#ff006e"/><rect x="78" y="536" width="1" height="4" fill="#ff006e"/><rect x="82" y="536" width="1" height="3" fill="#ff006e"/><rect x="85" y="536" width="1" height="2" fill="#ff006e"/><rect x="89" y="536" width="1" height="3" fill="#ff006e"/><rect x="93" y="536" width="1" height="6" fill="#ff006e"/><rect x="96" y="536" width="1" height="15" fill="#ff006e"/><rect x="100" y="536" width="1" height="16" fill="#ff006e"/><rect x="103" y="536" width="1" height="18" fill="#ff006e"/><rect x="107" y="536" width="1" height="18" fill="#ff006e"/><rect x="110" y="536" width="1" height="17" fill="#ff006e"/><rect x="114" y="536" width="1" height="15" fill="#ff006e"/><rect x="117" y="536" width="1" height="11" fill="#ff006e"/><rect x="121" y="536" width="1" height="7" fill="#ff006e"/><rect x="124" y="536" width="1" height="4" fill="#ff006e"/><rect x="128" y="536" width="1" height="2" fill="#ff006e"/><rect x="135" y="535" width="1" height="1" fill="#ff006e"/><rect x="139" y="533" width="1" height="3" fill="#ff006e"/><rect x="142" y="530" width="1" height="6" fill="#ff006e"/><rect x="146" y="530" width="1" height="6" fill="#ff006e"/><rect x="149" y="529" width="1" height="7" fill="#ff006e"/><rect x="153" y="529" width="1" height="7" fill="#ff006e"/><rect x="156" y="527" width="1" height="9" fill="#ff006e"/><rect x="160" y="527" width="1" height="9" fill="#ff006e"/><rect x="163" y="527" width="1" height="9" fill="#ff006e"/><rect x="167" y="527" width="1" height="9" fill="#ff006e"/><rect x="171" y="528" width="1" height="8" fill="#ff006e"/><rect x="174" y="529" width="1" height="7" fill="#ff006e"/><rect x="178" y="526" width="1" height="10" fill="#ff006e"/><rect x="181" y="524" width="1" height="12" fill="#ff006e"/><rect x="185" y="522" width="1" height="14" fill="#ff006e"/><rect x="188" y="521" width="1" height="15" fill="#ff006e"/><rect x="192" y="520" width="1" height="16" fill="#ff006e"/><rect x="195" y="520" width="1" height="16" fill="#ff006e"/><rect x="199" y="523" width="1" height="13" fill="#ff006e"/><rect x="202" y="525" width="1" height="11" fill="#ff006e"/><rect x="206" y="527" width="1" height="9" fill="#ff006e"/><rect x="209" y="528" width="1" height="8" fill="#ff006e"/><rect x="213" y="530" width="1" height="6" fill="#ff006e"/><rect x="217" y="531" width="1" height="5" fill="#ff006e"/><rect x="220" y="532" width="1" height="4" fill="#ff006e"/><rect x="224" y="534" width="1" height="2" fill="#ff006e"/><rect x="227" y="535" width="1" height="1" fill="#ff006e"/><rect x="231" y="536" width="1" height="2" fill="#ff006e"/><rect x="234" y="536" width="1" height="5" fill="#ff006e"/><rect x="238" y="536" width="1" height="6" fill="#ff006e"/><rect x="241" y="536" width="1" height="6" fill="#ff006e"/><rect x="245" y="536" width="1" height="6" fill="#ff006e"/><rect x="248" y="536" width="1" height="7" fill="#ff006e"/><rect x="252" y="536" width="1" height="7" fill="#ff006e"/><rect x="256" y="536" width="1" height="6" fill="#ff006e"/><rect x="259" y="536" width="1" height="5" fill="#ff006e"/><rect x="263" y="535" width="1" height="1" fill="#ff006e"/><rect x="266" y="533" width="1" height="3" fill="#ff006e"/><rect x="270" y="535" width="1" height="1" fill="#ff006e"/><rect x="273" y="536" width="1" height="2" fill="#ff006e"/><rect x="277" y="536" width="1" height="3" fill="#ff006e"/><rect x="280" y="536" width="1" height="4" fill="#ff006e"/><rect x="284" y="536" width="1" height="4" fill="#ff006e"/><rect x="287" y="536" width="1" height="3" fill="#ff006e"/><rect x="291" y="536" width="1" height="3" fill="#ff006e"/><rect x="295" y="536" width="1" height="1" fill="#ff006e"/><rect x="298" y="535" width="1" height="1" fill="#ff006e"/><rect x="302" y="534" width="1" height="2" fill="#ff006e"/><rect x="305" y="534" width="1" height="2" fill="#ff006e"/><rect x="309" y="533" width="1" height="3" fill="#ff006e"/><rect x="312" y="533" width="1" height="3" fill="#ff006e"/><rect x="316" y="533" width="1" height="3" fill="#ff006e"/><rect x="319" y="535" width="1" height="1" fill="#ff006e"/><rect x="333" y="536" width="1" height="3" fill="#ff006e"/><rect x="337" y="536" width="1" height="7" fill="#ff006e"/><rect x="341" y="536" width="1" height="9" fill="#ff006e"/><rect x="344" y="536" width="1" height="10" fill="#ff006e"/><rect x="348" y="536" width="1" height="8" fill="#ff006e"/><rect x="351" y="536" width="1" height="6" fill="#ff006e"/><rect x="355" y="536" width="1" height="6" fill="#ff006e"/><rect x="358" y="536" width="1" height="6" fill="#ff006e"/><rect x="362" y="536" width="1" height="7" fill="#ff006e"/><rect x="365" y="536" width="1" height="5" fill="#ff006e"/><rect x="369" y="535" width="1" height="1" fill="#ff006e"/><rect x="372" y="530" width="1" height="6" fill="#ff006e"/><rect x="376" y="528" width="1" height="8" fill="#ff006e"/><rect x="380" y="526" width="1" height="10" fill="#ff006e"/><rect x="383" y="525" width="1" height="11" fill="#ff006e"/><rect x="387" y="524" width="1" height="12" fill="#ff006e"/><rect x="390" y="526" width="1" height="10" fill="#ff006e"/><rect x="394" y="528" width="1" height="8" fill="#ff006e"/><rect x="397" y="531" width="1" height="5" fill="#ff006e"/><rect x="401" y="532" width="1" height="4" fill="#ff006e"/><rect x="404" y="533" width="1" height="3" fill="#ff006e"/><rect x="408" y="534" width="1" height="2" fill="#ff006e"/><rect x="411" y="534" width="1" height="2" fill="#ff006e"/><rect x="415" y="535" width="1" height="1" fill="#ff006e"/><rect x="419" y="535" width="1" height="1" fill="#ff006e"/><rect x="422" y="532" width="1" height="4" fill="#ff006e"/><rect x="426" y="532" width="1" height="4" fill="#ff006e"/><rect x="433" y="536" width="1" height="2" fill="#ff006e"/><rect x="436" y="536" width="1" height="3" fill="#ff006e"/><rect x="440" y="536" width="1" height="3" fill="#ff006e"/><rect x="443" y="536" width="1" height="4" fill="#ff006e"/><rect x="447" y="536" width="1" height="4" fill="#ff006e"/><rect x="450" y="536" width="1" height="3" fill="#ff006e"/><rect x="454" y="536" width="1" height="4" fill="#ff006e"/><rect x="457" y="536" width="1" height="4" fill="#ff006e"/><rect x="461" y="536" width="1" height="3" fill="#ff006e"/><rect x="465" y="536" width="1" height="2" fill="#ff006e"/><rect x="468" y="536" width="1" height="1" fill="#ff006e"/><rect x="482" y="534" width="1" height="2" fill="#ff006e"/><rect x="486" y="533" width="1" height="3" fill="#ff006e"/><rect x="489" y="531" width="1" height="5" fill="#ff006e"/><rect x="493" y="529" width="1" height="7" fill="#ff006e"/><rect x="496" y="529" width="1" height="7" fill="#ff006e"/><rect x="500" y="530" width="1" height="6" fill="#ff006e"/><rect x="504" y="532" width="1" height="4" fill="#ff006e"/><rect x="507" y="535" width="1" height="1" fill="#ff006e"/><rect x="511" y="536" width="1" height="1" fill="#ff006e"/><rect x="514" y="536" width="1" height="3" fill="#ff006e"/><rect x="518" y="536" width="1" height="4" fill="#ff006e"/><rect x="521" y="536" width="1" height="4" fill="#ff006e"/><rect x="525" y="536" width="1" height="5" fill="#ff006e"/><rect x="528" y="536" width="1" height="5" fill="#ff006e"/><rect x="532" y="536" width="1" height="6" fill="#ff006e"/><rect x="535" y="536" width="1" height="6" fill="#ff006e"/><rect x="539" y="536" width="1" height="6" fill="#ff006e"/><rect x="543" y="536" width="1" height="9" fill="#ff006e"/><rect x="546" y="536" width="1" height="11" fill="#ff006e"/><rect x="550" y="536" width="1" height="10" fill="#ff006e"/><rect x="553" y="536" width="1" height="9" fill="#ff006e"/><rect x="557" y="536" width="1" height="8" fill="#ff006e"/><rect x="560" y="536" width="1" height="7" fill="#ff006e"/><rect x="564" y="536" width="1" height="8" fill="#ff006e"/><rect x="567" y="536" width="1" height="10" fill="#ff006e"/><rect x="571" y="536" width="1" height="11" fill="#ff006e"/><rect x="574" y="536" width="1" height="10" fill="#ff006e"/><rect x="578" y="536" width="1" height="9" fill="#ff006e"/><rect x="581" y="536" width="1" height="7" fill="#ff006e"/><rect x="585" y="536" width="1" height="2" fill="#ff006e"/><rect x="589" y="535" width="1" height="1" fill="#ff006e"/><rect x="592" y="530" width="1" height="6" fill="#ff006e"/><rect x="596" y="525" width="1" height="11" fill="#ff006e"/><rect x="599" y="523" width="1" height="13" fill="#ff006e"/><rect x="603" y="518" width="1" height="18" fill="#ff006e"/><rect x="606" y="513" width="1" height="23" fill="#ff006e"/><rect x="610" y="510" width="1" height="26" fill="#ff006e"/><rect x="613" y="510" width="1" height="26" fill="#ff006e"/><rect x="617" y="513" width="1" height="23" fill="#ff006e"/><rect x="620" y="517" width="1" height="19" fill="#ff006e"/><rect x="624" y="522" width="1" height="14" fill="#ff006e"/><rect x="628" y="524" width="1" height="12" fill="#ff006e"/><rect x="631" y="527" width="1" height="9" fill="#ff006e"/><rect x="635" y="530" width="1" height="6" fill="#ff006e"/><rect x="638" y="531" width="1" height="5" fill="#ff006e"/><rect x="642" y="530" width="1" height="6" fill="#ff006e"/><rect x="645" y="528" width="1" height="8" fill="#ff006e"/><rect x="649" y="529" width="1" height="7" fill="#ff006e"/><rect x="652" y="529" width="1" height="7" fill="#ff006e"/><rect x="656" y="531" width="1" height="5" fill="#ff006e"/><rect x="659" y="533" width="1" height="3" fill="#ff006e"/><rect x="667" y="536" width="1" height="7" fill="#ff006e"/><rect x="670" y="536" width="1" height="13" fill="#ff006e"/><rect x="674" y="536" width="1" height="12" fill="#ff006e"/><rect x="677" y="536" width="1" height="9" fill="#ff006e"/><rect x="681" y="536" width="1" height="6" fill="#ff006e"/><rect x="684" y="536" width="1" height="3" fill="#ff006e"/><rect x="688" y="536" width="1" height="2" fill="#ff006e"/><rect x="691" y="536" width="1" height="1" fill="#ff006e"/><rect x="698" y="535" width="1" height="1" fill="#ff006e"/><rect x="702" y="534" width="1" height="2" fill="#ff006e"/><rect x="706" y="532" width="1" height="4" fill="#ff006e"/><rect x="709" y="530" width="1" height="6" fill="#ff006e"/><rect x="713" y="530" width="1" height="6" fill="#ff006e"/><rect x="716" y="531" width="1" height="5" fill="#ff006e"/><rect x="720" y="532" width="1" height="4" fill="#ff006e"/><rect x="723" y="533" width="1" height="3" fill="#ff006e"/><rect x="727" y="535" width="1" height="1" fill="#ff006e"/><rect x="737" y="536" width="1" height="1" fill="#ff006e"/><rect x="741" y="536" width="1" height="4" fill="#ff006e"/><rect x="744" y="536" width="1" height="7" fill="#ff006e"/><rect x="748" y="536" width="1" height="5" fill="#ff006e"/><rect x="752" y="536" width="1" height="5" fill="#ff006e"/><rect x="755" y="536" width="1" height="4" fill="#ff006e"/><rect x="759" y="536" width="1" height="3" fill="#ff006e"/><rect x="762" y="536" width="1" height="5" fill="#ff006e"/><rect x="766" y="536" width="1" height="6" fill="#ff006e"/><rect x="769" y="536" width="1" height="6" fill="#ff006e"/><rect x="773" y="536" width="1" height="6" fill="#ff006e"/><rect x="776" y="536" width="1" height="3" fill="#ff006e"/><rect x="780" y="536" width="1" height="1" fill="#ff006e"/><rect x="783" y="535" width="1" height="1" fill="#ff006e"/><rect x="787" y="534" width="1" height="2" fill="#ff006e"/><rect x="791" y="533" width="1" height="3" fill="#ff006e"/><rect x="794" y="533" width="1" height="3" fill="#ff006e"/><rect x="798" y="532" width="1" height="4" fill="#ff006e"/><rect x="801" y="532" width="1" height="4" fill="#ff006e"/><rect x="805" y="533" width="1" height="3" fill="#ff006e"/><rect x="808" y="535" width="1" height="1" fill="#ff006e"/><rect x="815" y="536" width="1" height="2" fill="#ff006e"/><rect x="819" y="536" width="1" height="3" fill="#ff006e"/><rect x="822" y="536" width="1" height="4" fill="#ff006e"/><rect x="826" y="536" width="1" height="5" fill="#ff006e"/><rect x="830" y="536" width="1" height="6" fill="#ff006e"/><rect x="833" y="536" width="1" height="4" fill="#ff006e"/><rect x="837" y="536" width="1" height="3" fill="#ff006e"/><rect x="840" y="536" width="1" height="2" fill="#ff006e"/><rect x="844" y="536" width="1" height="1" fill="#ff006e"/><rect x="847" y="536" width="1" height="1" fill="#ff006e"/><rect x="851" y="536" width="1" height="2" fill="#ff006e"/><rect x="854" y="536" width="1" height="2" fill="#ff006e"/><rect x="858" y="536" width="1" height="3" fill="#ff006e"/><rect x="861" y="536" width="1" height="4" fill="#ff006e"/><rect x="865" y="536" width="1" height="4" fill="#ff006e"/><rect x="868" y="536" width="1" height="5" fill="#ff006e"/><rect x="872" y="536" width="1" height="8" fill="#ff006e"/><rect x="876" y="536" width="1" height="11" fill="#ff006e"/><rect x="879" y="536" width="1" height="15" fill="#ff006e"/><rect x="883" y="536" width="1" height="14" fill="#ff006e"/><rect x="886" y="536" width="1" height="14" fill="#ff006e"/><rect x="890" y="536" width="1" height="13" fill="#ff006e"/><rect x="893" y="536" width="1" height="10" fill="#ff006e"/><rect x="897" y="536" width="1" height="5" fill="#ff006e"/><rect x="900" y="536" width="1" height="2" fill="#ff006e"/><rect x="904" y="536" width="1" height="4" fill="#ff006e"/><rect x="907" y="536" width="1" height="2" fill="#ff006e"/><rect x="911" y="536" width="1" height="4" fill="#ff006e"/><rect x="915" y="536" width="1" height="6" fill="#ff006e"/><rect x="918" y="536" width="1" height="2" fill="#ff006e"/><rect x="922" y="535" width="1" height="1" fill="#ff006e"/><rect x="925" y="533" width="1" height="3" fill="#ff006e"/><rect x="929" y="533" width="1" height="3" fill="#ff006e"/><rect x="932" y="532" width="1" height="4" fill="#ff006e"/><rect x="936" y="531" width="1" height="5" fill="#ff006e"/><rect x="939" y="532" width="1" height="4" fill="#ff006e"/><rect x="943" y="531" width="1" height="5" fill="#ff006e"/><rect x="946" y="530" width="1" height="6" fill="#ff006e"/><rect x="950" y="530" width="1" height="6" fill="#ff006e"/><rect x="954" y="528" width="1" height="8" fill="#ff006e"/><rect x="957" y="527" width="1" height="9" fill="#ff006e"/><rect x="961" y="527" width="1" height="9" fill="#ff006e"/><rect x="964" y="526" width="1" height="10" fill="#ff006e"/><rect x="968" y="526" width="1" height="10" fill="#ff006e"/><rect x="971" y="526" width="1" height="10" fill="#ff006e"/><rect x="975" y="528" width="1" height="8" fill="#ff006e"/><rect x="978" y="530" width="1" height="6" fill="#ff006e"/><rect x="982" y="529" width="1" height="7" fill="#ff006e"/><rect x="985" y="527" width="1" height="9" fill="#ff006e"/><rect x="989" y="528" width="1" height="8" fill="#ff006e"/><rect x="992" y="528" width="1" height="8" fill="#ff006e"/><rect x="996" y="528" width="1" height="8" fill="#ff006e"/><rect x="1000" y="530" width="1" height="6" fill="#ff006e"/><rect x="1003" y="531" width="1" height="5" fill="#ff006e"/><rect x="1007" y="532" width="1" height="4" fill="#ff006e"/><rect x="1010" y="534" width="1" height="2" fill="#ff006e"/><rect x="1014" y="534" width="1" height="2" fill="#ff006e"/><rect x="1017" y="535" width="1" height="1" fill="#ff006e"/><rect x="1035" y="535" width="1" height="1" fill="#ff006e"/><rect x="1039" y="535" width="1" height="1" fill="#ff006e"/><rect x="1042" y="534" width="1" height="2" fill="#ff006e"/><rect x="1046" y="535" width="1" height="1" fill="#ff006e"/><rect x="1056" y="536" width="1" height="1" fill="#ff006e"/><rect x="1060" y="536" width="1" height="1" fill="#ff006e"/><rect x="1063" y="536" width="1" height="5" fill="#ff006e"/><rect x="1067" y="536" width="1" height="3" fill="#ff006e"/><rect x="1070" y="536" width="1" height="2" fill="#ff006e"/><rect x="1074" y="536" width="1" height="4" fill="#ff006e"/><rect x="1078" y="536" width="1" height="6" fill="#ff006e"/></g>
</g>
<polyline points="1.2,519.2 6.2,522.0 10.6,524.4 14.8,522.8 18.7,520.9 21.8,521.2 26.5,523.6 31.9,525.9 38.1,530.1 44.4,532.1 49.8,534.8 55.3,536.8 60.7,539.1 66.1,540.7 70.8,542.2 77.0,544.1 82.5,543.3 85.6,543.8 89.5,546.1 92.6,551.6 95.7,564.0 99.6,570.3 102.7,576.5 106.6,580.4 109.7,584.0 112.8,585.4 116.7,583.0 121.4,579.9 126.8,578.4 132.3,575.7 137.7,572.6 140.9,568.7 146.3,565.6 151.8,562.5 156.4,557.8 161.9,555.2 167.3,551.9 172.8,551.3 175.9,547.7 181.3,539.1 186.8,530.6 193.1,521.2 197.0,518.6 202.5,517.7 208.7,516.3 213.3,516.6 218.8,517.3 223.5,518.1 227.4,519.7 230.5,522.8 233.6,527.0 238.2,529.5 242.9,532.9 248.4,536.0 253.8,538.0 258.5,538.4 262.4,531.4 265.5,529.3 269.4,531.4 273.3,536.3 277.2,536.5 280.3,538.4 283.4,539.4 289.6,539.4 294.3,536.8 298.9,534.5 303.6,532.6 309.1,531.0 315.3,529.5 318.4,531.4 327.0,531.7 330.9,532.9 334.7,538.4 338.6,543.8 343.3,548.9 350.3,549.3 357.3,552.4 364.3,555.5 367.4,550.0 371.3,543.0 376.8,536.8 383.9,528.6 387.8,526.4 394.0,526.4 399.5,528.2 405.7,528.2 411.1,528.2 415.8,529.5 418.9,527.9 421.2,524.4 425.1,523.3 428.2,527.5 432.9,529.8 437.6,531.8 442.3,534.5 448.5,535.7 454.7,536.8 460.9,537.6 464.8,537.3 467.2,536.3 472.6,536.0 478.1,535.2 483.5,532.9 488.2,529.0 492.8,525.1 496.0,524.4 503.0,524.4 506.8,526.7 510.0,529.5 513.9,532.1 518.5,533.7 522.4,535.7 526.3,538.4 531.8,540.7 538.0,543.5 541.9,548.5 545.8,552.8 550.4,555.8 555.9,557.0 559.8,558.6 563.7,562.5 567.5,567.9 570.0,570.6 574.7,572.9 580.9,573.4 584.8,567.9 588.7,564.0 593.3,553.9 598.8,544.6 602.7,535.2 606.6,521.2 610.5,511.9 614.4,506.5 619.0,504.1 623.7,506.1 627.6,505.4 632.3,506.9 636.9,507.2 640.8,505.2 644.7,501.8 650.9,499.4 654.8,499.4 659.5,501.8 663.4,505.7 666.5,512.7 669.6,521.2 673.5,523.3 678.2,521.7 683.6,519.4 689.1,518.1 694.5,517.3 700.7,515.8 704.6,511.9 708.5,508.5 715.5,506.1 720.2,506.5 725.6,508.8 730.3,510.3 736.5,510.8 740.4,515.8 744.3,520.5 750.5,521.2 758.3,521.2 765.4,527.5 772.5,529.5 777.9,525.9 783.3,522.0 791.9,518.6 799.7,516.6 805.1,516.6 809.8,518.6 816.0,522.3 822.3,525.1 829.3,529.5 833.9,528.2 840.9,528.2 844.8,527.5 851.1,529.5 856.5,532.4 862.7,534.9 868.2,537.6 872.1,543.0 876.0,549.3 879.1,556.3 883.0,559.4 886.8,563.6 890.0,565.6 893.1,564.0 899.3,556.6 903.2,560.6 906.3,559.4 910.2,561.7 914.1,565.6 918.0,561.2 923.9,556.7 928.6,555.2 934.0,551.9 938.7,551.3 944.1,548.2 949.6,545.4 953.5,541.5 957.4,537.3 961.2,535.2 965.1,531.4 969.8,527.5 973.7,527.2 977.3,528.6 980.7,525.9 984.6,521.7 988.5,520.5 992.4,518.1 995.5,516.6 1000.9,516.6 1006.4,516.6 1009.5,517.3 1013.4,517.3 1017.3,518.4 1022.7,518.4 1027.4,518.4 1032.8,517.7 1037.5,516.6 1041.4,515.3 1045.3,516.1 1048.4,517.0 1053.1,517.7 1057.0,518.6 1060.1,520.1 1062.4,524.4 1066.3,522.0 1069.4,520.5 1073.3,524.4 1078.0,528.6" fill="none" stroke="#2196f3" stroke-width="1.1" stroke-linejoin="round"/>
<polyline points="1.2,517.3 6.2,518.6 12.5,520.1 18.7,520.8 24.9,520.8 31.1,522.5 37.4,525.1 43.6,527.0 49.8,529.5 56.0,531.8 62.3,534.2 68.5,536.3 74.7,538.7 80.9,540.4 86.4,541.9 91.1,544.1 94.9,547.7 99.6,554.7 105.8,561.7 110.5,567.5 116.0,571.8 121.4,574.5 126.8,575.9 132.3,576.0 137.7,575.2 143.2,573.4 149.4,570.7 155.6,567.2 161.9,563.7 167.3,560.6 172.8,558.1 177.4,555.5 182.9,550.0 188.3,543.0 194.7,536.0 199.3,530.6 204.8,526.4 210.2,523.6 216.5,521.7 221.9,520.5 226.6,520.1 231.2,521.2 236.7,523.1 242.1,526.2 247.6,529.0 253.0,531.0 258.5,532.9 263.2,532.6 267.8,532.4 272.5,533.2 277.2,533.7 281.8,535.2 287.3,536.0 292.7,536.3 298.2,536.0 303.6,534.9 309.8,533.7 316.1,532.6 322.3,531.8 328.5,531.8 333.2,532.4 337.9,534.8 343.3,538.8 348.8,542.2 354.2,544.6 359.6,546.9 365.1,549.3 369.0,549.3 374.4,547.2 379.9,543.5 384.7,539.9 390.1,536.0 395.6,532.9 401.0,531.8 407.2,530.3 413.5,530.1 418.9,529.0 424.4,527.5 431.4,527.2 437.6,529.0 443.8,530.9 450.0,532.6 455.5,533.2 460.9,534.5 464.8,535.6 471.8,535.6 478.1,535.6 483.5,535.2 488.9,533.2 494.4,531.4 499.8,529.8 504.5,528.2 508.4,527.5 513.1,529.5 517.7,529.5 523.2,531.8 529.4,534.2 535.6,536.8 541.1,538.8 545.8,542.2 551.2,546.9 557.4,550.3 563.7,553.9 569.9,558.9 575.4,563.3 580.9,566.4 587.9,566.1 594.9,562.2 601.9,554.7 607.4,544.6 612.8,534.5 618.2,525.1 623.7,519.4 629.1,515.8 635.4,513.0 641.6,511.1 647.8,508.0 654.8,504.6 661.1,504.1 666.5,505.2 671.2,509.6 676.6,513.5 682.8,516.3 689.8,516.6 696.8,517.3 702.3,516.6 707.7,515.0 713.2,512.4 719.4,510.3 725.6,510.0 731.9,510.0 737.3,510.0 742.0,512.4 747.4,515.5 753.7,517.3 759.9,518.9 767.8,522.0 775.6,524.4 782.6,523.9 790.4,522.0 798.1,520.8 805.1,518.9 812.9,518.9 819.9,520.8 826.9,522.8 833.9,524.8 840.2,526.4 846.4,526.7 853.4,528.6 860.4,530.3 867.4,532.1 872.8,534.8 878.3,540.2 884.5,546.9 890.0,552.4 893.1,554.4 899.3,555.5 904.7,557.0 911.0,558.6 917.2,560.1 925.4,559.4 930.9,557.8 936.3,556.3 941.8,554.7 947.2,552.4 952.7,550.0 958.1,546.6 963.6,542.6 969.0,538.8 974.5,535.7 979.9,532.9 984.6,531.0 990.0,527.5 995.5,524.4 1000.9,521.7 1006.4,520.1 1011.1,519.2 1017.3,518.9 1023.5,518.9 1028.9,518.4 1035.2,518.1 1040.6,517.3 1046.1,517.3 1052.3,517.3 1057.0,517.7 1061.6,519.2 1066.3,519.4 1070.2,519.4 1074.1,520.5 1078.0,522.5" fill="none" stroke="#ff6d00" stroke-width="1.1" stroke-linejoin="round"/>
<g shape-rendering="crispEdges">
<line x1="1" y1="134.5" x2="1229" y2="134.5" stroke="#53b987" stroke-width="1" stroke-dasharray="2,1"/>
<rect x="1" y="493" width="1282" height="1" fill="#555555"/>
<rect x="1229" y="0" width="1" height="593" fill="#555555"/>
<rect x="1" y="592" width="1229" height="1" fill="#555555"/>
<rect x="1" y="611" width="1282" height="1" fill="#eceff2"/>
<rect x="1230" y="30" width="3" height="1" fill="#555555"/>
<rect x="1230" y="119" width="3" height="1" fill="#555555"/>
<rect x="1230" y="163" width="3" height="1" fill="#555555"/>
<rect x="1230" y="208" width="3" height="1" fill="#555555"/>
<rect x="1230" y="252" width="3" height="1" fill="#555555"/>
<rect x="1230" y="341" width="3" height="1" fill="#555555"/>
<rect x="1230" y="386" width="3" height="1" fill="#555555"/>
<rect x="1230" y="430" width="3" height="1" fill="#555555"/>
<rect x="1230" y="475" width="3" height="1" fill="#555555"/>
<rect x="1230" y="497" width="3" height="1" fill="#555555"/>
<rect x="1230" y="535" width="3" height="1" fill="#555555"/>
<rect x="1230" y="573" width="3" height="1" fill="#555555"/>
<rect x="50" y="593" width="1" height="3" fill="#555555"/>
<rect x="132" y="593" width="1" height="3" fill="#555555"/>
<rect x="213" y="593" width="1" height="3" fill="#555555"/>
<rect x="295" y="593" width="1" height="3" fill="#555555"/>
<rect x="376" y="593" width="1" height="3" fill="#555555"/>
<rect x="457" y="593" width="1" height="3" fill="#555555"/>
<rect x="539" y="593" width="1" height="3" fill="#555555"/>
<rect x="620" y="593" width="1" height="3" fill="#555555"/>
<rect x="702" y="593" width="1" height="3" fill="#555555"/>
<rect x="783" y="593" width="1" height="3" fill="#555555"/>
<rect x="932" y="593" width="1" height="3" fill="#555555"/>
<rect x="1014" y="593" width="1" height="3" fill="#555555"/>
<rect x="1099" y="593" width="1" height="3" fill="#555555"/>
<rect x="1184" y="593" width="1" height="3" fill="#555555"/>
<rect x="1229" y="67" width="44" height="16" fill="#000"/><rect x="1229" y="74" width="3" height="1" fill="#fff"/>
<rect x="1229" y="290" width="44" height="16" fill="#000"/><rect x="1229" y="297" width="3" height="1" fill="#fff"/>
<rect x="1229" y="127" width="44" height="16" fill="#53b987"/><rect x="1229" y="134" width="3" height="1" fill="#fff"/>
<rect x="1239" y="144" width="34" height="16" fill="#53b987"/>
<rect x="322" y="617" width="1" height="21" fill="#e8ebee"/>
<rect x="1097" y="617" width="1" height="21" fill="#e8ebee"/>
</g>
<text x="1236" y="34.5" font-size="11" fill="#4d4d4d" text-anchor="start" font-weight="normal" stroke="#4d4d4d" stroke-width="0.22" textLength="33" lengthAdjust="spacingAndGlyphs">7020.0</text>
<text x="1236" y="123.5" font-size="11" fill="#4d4d4d" text-anchor="start" font-weight="normal" stroke="#4d4d4d" stroke-width="0.22" textLength="33" lengthAdjust="spacingAndGlyphs">6980.0</text>
<text x="1236" y="167.5" font-size="11" fill="#4d4d4d" text-anchor="start" font-weight="normal" stroke="#4d4d4d" stroke-width="0.22" textLength="33" lengthAdjust="spacingAndGlyphs">6960.0</text>
<text x="1236" y="212.5" font-size="11" fill="#4d4d4d" text-anchor="start" font-weight="normal" stroke="#4d4d4d" stroke-width="0.22" textLength="33" lengthAdjust="spacingAndGlyphs">6940.0</text>
<text x="1236" y="256.5" font-size="11" fill="#4d4d4d" text-anchor="start" font-weight="normal" stroke="#4d4d4d" stroke-width="0.22" textLength="33" lengthAdjust="spacingAndGlyphs">6920.0</text>
<text x="1236" y="345.5" font-size="11" fill="#4d4d4d" text-anchor="start" font-weight="normal" stroke="#4d4d4d" stroke-width="0.22" textLength="33" lengthAdjust="spacingAndGlyphs">6880.0</text>
<text x="1236" y="390.5" font-size="11" fill="#4d4d4d" text-anchor="start" font-weight="normal" stroke="#4d4d4d" stroke-width="0.22" textLength="33" lengthAdjust="spacingAndGlyphs">6860.0</text>
<text x="1236" y="434.5" font-size="11" fill="#4d4d4d" text-anchor="start" font-weight="normal" stroke="#4d4d4d" stroke-width="0.22" textLength="33" lengthAdjust="spacingAndGlyphs">6840.0</text>
<text x="1236" y="479.5" font-size="11" fill="#4d4d4d" text-anchor="start" font-weight="normal" stroke="#4d4d4d" stroke-width="0.22" textLength="33" lengthAdjust="spacingAndGlyphs">6820.0</text>
<text x="1236" y="78.5" font-size="11" fill="#fff" text-anchor="start" font-weight="normal" stroke="#fff" stroke-width="0.15" textLength="33" lengthAdjust="spacingAndGlyphs">7000.0</text>
<text x="1236" y="301.5" font-size="11" fill="#fff" text-anchor="start" font-weight="normal" stroke="#fff" stroke-width="0.15" textLength="33" lengthAdjust="spacingAndGlyphs">6900.0</text>
<text x="1236" y="138.5" font-size="11" fill="#fff" text-anchor="start" font-weight="normal" stroke="#fff" stroke-width="0.15" textLength="33" lengthAdjust="spacingAndGlyphs">6973.1</text>
<text x="1242" y="155.5" font-size="11" fill="#fff" text-anchor="start" font-weight="normal" stroke="#fff" stroke-width="0.15" textLength="27" lengthAdjust="spacingAndGlyphs">53:22</text>
<text x="1236" y="502" font-size="11" fill="#4d4d4d" text-anchor="start" font-weight="normal" stroke="#4d4d4d" stroke-width="0.22" textLength="38.5" lengthAdjust="spacingAndGlyphs">20.0000</text>
<text x="1236" y="540" font-size="11" fill="#4d4d4d" text-anchor="start" font-weight="normal" stroke="#4d4d4d" stroke-width="0.22" textLength="33" lengthAdjust="spacingAndGlyphs">0.0000</text>
<text x="1236" y="577.7" font-size="11" fill="#4d4d4d" text-anchor="start" font-weight="normal" stroke="#4d4d4d" stroke-width="0.22" textLength="42" lengthAdjust="spacingAndGlyphs">-20.0000</text>
<text x="50" y="606.7" font-size="11" fill="#4d4d4d" text-anchor="middle" font-weight="normal" stroke="#4d4d4d" stroke-width="0.3">15</text>
<text x="132" y="606.7" font-size="11" fill="#4d4d4d" text-anchor="middle" font-weight="normal" stroke="#4d4d4d" stroke-width="0.3">16</text>
<text x="213" y="606.7" font-size="11" fill="#4d4d4d" text-anchor="middle" font-weight="normal" stroke="#4d4d4d" stroke-width="0.3">17</text>
<text x="295" y="606.7" font-size="11" fill="#4d4d4d" text-anchor="middle" font-weight="normal" stroke="#4d4d4d" stroke-width="0.3">18</text>
<text x="376" y="606.7" font-size="11" fill="#4d4d4d" text-anchor="middle" font-weight="normal" stroke="#4d4d4d" stroke-width="0.3">21</text>
<text x="457" y="606.7" font-size="11" fill="#4d4d4d" text-anchor="middle" font-weight="normal" stroke="#4d4d4d" stroke-width="0.3">22</text>
<text x="539" y="606.7" font-size="11" fill="#4d4d4d" text-anchor="middle" font-weight="normal" stroke="#4d4d4d" stroke-width="0.3">23</text>
<text x="620" y="606.7" font-size="11" fill="#4d4d4d" text-anchor="middle" font-weight="normal" stroke="#4d4d4d" stroke-width="0.3">24</text>
<text x="702" y="606.7" font-size="11" fill="#4d4d4d" text-anchor="middle" font-weight="normal" stroke="#4d4d4d" stroke-width="0.3">25</text>
<text x="783" y="606.7" font-size="11" fill="#4d4d4d" text-anchor="middle" font-weight="normal" stroke="#4d4d4d" stroke-width="0.3">28</text>
<text x="932" y="606.7" font-size="11" fill="#4d4d4d" text-anchor="middle" font-weight="normal" stroke="#4d4d4d" stroke-width="0.3">30</text>
<text x="1014" y="606.7" font-size="11" fill="#4d4d4d" text-anchor="middle" font-weight="normal" stroke="#4d4d4d" stroke-width="0.3">31</text>
<text x="1184" y="606.7" font-size="11" fill="#4d4d4d" text-anchor="middle" font-weight="normal" stroke="#4d4d4d" stroke-width="0.3">4</text>
<text x="1099.5" y="606.7" font-size="11" fill="#4d4d4d" text-anchor="middle" font-weight="bold">Jun</text>
<rect x="6.5" y="12.5" width="12" height="12" rx="1.8" fill="#fff" stroke="#828282" stroke-width="1"/><rect x="8" y="18" width="9" height="1" fill="#828282"/>
<path d="M27 14H38.7L35.4 19.9L38.7 26H27Z" fill="#cfcfcf"/>
<text y="25.5" font-size="16" fill="#333" stroke="#333" stroke-width="0.45"><tspan x="45.00" textLength="17.39" lengthAdjust="spacingAndGlyphs">US</tspan> <tspan x="68.90" textLength="25.50" lengthAdjust="spacingAndGlyphs">Nas</tspan> <tspan x="101.00" textLength="29.90" lengthAdjust="spacingAndGlyphs">100,</tspan> <tspan x="138.40" textLength="21.79" lengthAdjust="spacingAndGlyphs">60,</tspan> <tspan x="168.30" textLength="51.39" lengthAdjust="spacingAndGlyphs">OANDA</tspan></text>
<path d="M224 18H232L228 22Z" fill="#c4c4c4"/>
<rect x="242" y="14" width="14" height="14" fill="#d6d6d6"/><path d="M243.9 21.1C246 15.500000000000002 252 15.500000000000002 254.1 21.1C252 26.700000000000003 246 26.700000000000003 243.9 21.1Z" fill="#fff"/><circle cx="249" cy="21.1" r="2.2" fill="none" stroke="#d6d6d6" stroke-width="1.2"/>
<rect x="259" y="14" width="14" height="14" fill="#d6d6d6"/><polygon points="264.90,15.92 267.10,15.92 267.03,17.76 267.63,18.00 268.88,16.65 270.45,18.22 269.10,19.47 269.34,20.07 271.18,20.00 271.18,22.20 269.34,22.13 269.10,22.73 270.45,23.98 268.88,25.55 267.63,24.20 267.03,24.44 267.10,26.28 264.90,26.28 264.97,24.44 264.37,24.20 263.12,25.55 261.55,23.98 262.90,22.73 262.66,22.13 260.82,22.20 260.82,20.00 262.66,20.07 262.90,19.47 261.55,18.22 263.12,16.65 264.37,18.00 264.97,17.76" fill="#fff"/><circle cx="266" cy="21.1" r="1.9" fill="#d6d6d6"/>
<text x="281" y="25" font-size="14" fill="#444" text-anchor="start" font-weight="normal" stroke="#444" stroke-width="0.3" textLength="9.4" lengthAdjust="spacingAndGlyphs">O</text>
<text x="293" y="25" font-size="14" fill="#53b987" text-anchor="start" font-weight="normal" stroke="#53b987" stroke-width="0.1" textLength="44.5" lengthAdjust="spacingAndGlyphs">6972.1</text>
<text x="349" y="25" font-size="14" fill="#444" text-anchor="start" font-weight="normal" stroke="#444" stroke-width="0.3">H</text>
<text x="361" y="25" font-size="14" fill="#53b987" text-anchor="start" font-weight="normal" stroke="#53b987" stroke-width="0.1" textLength="45.5" lengthAdjust="spacingAndGlyphs">6973.3</text>
<text x="417.5" y="25" font-size="14" fill="#444" text-anchor="start" font-weight="normal" stroke="#444" stroke-width="0.3">L</text>
<text x="427.5" y="25" font-size="14" fill="#53b987" text-anchor="start" font-weight="normal" stroke="#53b987" stroke-width="0.1" textLength="45" lengthAdjust="spacingAndGlyphs">6960.6</text>
<text x="482.5" y="25" font-size="14" fill="#444" text-anchor="start" font-weight="normal" stroke="#444" stroke-width="0.3">C</text>
<text x="494" y="25" font-size="14" fill="#53b987" text-anchor="start" font-weight="normal" stroke="#53b987" stroke-width="0.1" textLength="44.5" lengthAdjust="spacingAndGlyphs">6973.1</text>
<text x="6" y="513.8" font-size="11.5" fill="#444" text-anchor="start" font-weight="normal" stroke="#444" stroke-width="0.15" textLength="125.5" lengthAdjust="spacingAndGlyphs">MACD (12, 26, close, 9)</text>
<path d="M136 507.5H144L140 511.5Z" fill="#c4c4c4"/>
<rect x="154" y="502.7" width="14" height="14" fill="#d6d6d6"/><path d="M155.9 509.8C158 504.2 164 504.2 166.1 509.8C164 515.4 158 515.4 155.9 509.8Z" fill="#fff"/><circle cx="161" cy="509.8" r="2.2" fill="none" stroke="#d6d6d6" stroke-width="1.2"/>
<rect x="171" y="502.7" width="14" height="14" fill="#d6d6d6"/><polygon points="176.90,504.62 179.10,504.62 179.03,506.46 179.63,506.70 180.88,505.35 182.45,506.92 181.10,508.17 181.34,508.77 183.18,508.70 183.18,510.90 181.34,510.83 181.10,511.43 182.45,512.68 180.88,514.25 179.63,512.90 179.03,513.14 179.10,514.98 176.90,514.98 176.97,513.14 176.37,512.90 175.12,514.25 173.55,512.68 174.90,511.43 174.66,510.83 172.82,510.90 172.82,508.70 174.66,508.77 174.90,508.17 173.55,506.92 175.12,505.35 176.37,506.70 176.97,506.46" fill="#fff"/><circle cx="178" cy="509.8" r="1.9" fill="#d6d6d6"/>
<rect x="188" y="502.7" width="14" height="14" fill="#d6d6d6"/><rect x="190.5" y="508.7" width="9" height="2.2" fill="#fff"/><rect x="193.9" y="505.3" width="2.2" height="9" fill="#fff"/>
<rect x="205" y="502.7" width="14" height="14" fill="#d6d6d6"/><path d="M207.2 504.9L216.8 514.5M216.8 504.9L207.2 514.5" stroke="#fff" stroke-width="1.7" fill="none"/>
<text x="228" y="514.5" font-size="12" fill="#ff006e" text-anchor="start" font-weight="normal" stroke="#ff006e" stroke-width="0.1" textLength="36.5" lengthAdjust="spacingAndGlyphs">-2.9988</text>
<text x="275.5" y="514.5" font-size="12" fill="#2196f3" text-anchor="start" font-weight="normal" stroke="#2196f3" stroke-width="0.1" textLength="33.5" lengthAdjust="spacingAndGlyphs">3.8518</text>
<text x="319" y="514.5" font-size="12" fill="#ff6d00" text-anchor="start" font-weight="normal" stroke="#ff6d00" stroke-width="0.1" textLength="34" lengthAdjust="spacingAndGlyphs">6.8506</text>
<circle cx="1214.85" cy="17.85" r="7.05" fill="none" stroke="#fb9248" stroke-width="1.5"/><rect x="1214.05" y="13.1" width="1.6" height="6.8" fill="#fb9248"/><rect x="1214.05" y="21" width="1.6" height="1.5" fill="#fb9248"/>
<text x="14.5" y="633" font-size="13" fill="#555" text-anchor="start" font-weight="normal" stroke="#555" stroke-width="0.3" textLength="14" lengthAdjust="spacingAndGlyphs">1D</text>
<text x="45" y="633" font-size="13" fill="#555" text-anchor="start" font-weight="normal" stroke="#555" stroke-width="0.3" textLength="14.5" lengthAdjust="spacingAndGlyphs">5D</text>
<text x="76" y="633" font-size="13" fill="#555" text-anchor="start" font-weight="normal" stroke="#555" stroke-width="0.3" textLength="23.5" lengthAdjust="spacingAndGlyphs">1Mo</text>
<text x="116" y="633" font-size="13" fill="#555" text-anchor="start" font-weight="normal" stroke="#555" stroke-width="0.3" textLength="23.5" lengthAdjust="spacingAndGlyphs">3Mo</text>
<text x="156" y="633" font-size="13" fill="#555" text-anchor="start" font-weight="normal" stroke="#555" stroke-width="0.3" textLength="23.5" lengthAdjust="spacingAndGlyphs">6Mo</text>
<text x="195.5" y="633" font-size="13" fill="#555" text-anchor="start" font-weight="normal" stroke="#555" stroke-width="0.3" textLength="23.5" lengthAdjust="spacingAndGlyphs">YTD</text>
<text x="235.5" y="633" font-size="13" fill="#555" text-anchor="start" font-weight="normal" stroke="#555" stroke-width="0.3" textLength="13.5" lengthAdjust="spacingAndGlyphs">1Y</text>
<text x="265" y="633" font-size="13" fill="#555" text-anchor="start" font-weight="normal" stroke="#555" stroke-width="0.3" textLength="14" lengthAdjust="spacingAndGlyphs">5Y</text>
<text x="295" y="633" font-size="13" fill="#555" text-anchor="start" font-weight="normal" stroke="#555" stroke-width="0.3" textLength="14" lengthAdjust="spacingAndGlyphs">All</text>
<text x="337.5" y="633" font-size="13" fill="#555" text-anchor="start" font-weight="normal" stroke="#555" stroke-width="0.3" textLength="45.5" lengthAdjust="spacingAndGlyphs">Go to...</text>
<text x="993" y="633" font-size="13" fill="#555" text-anchor="start" font-weight="normal" stroke="#555" stroke-width="0.3" textLength="90" lengthAdjust="spacingAndGlyphs">18:06:37 (UTC)</text>
<text x="1111.5" y="633" font-size="13" fill="#555" text-anchor="start" font-weight="normal" stroke="#555" stroke-width="0.3" textLength="20" lengthAdjust="spacingAndGlyphs">ext</text>
<text x="1146.5" y="633" font-size="13" fill="#555" text-anchor="start" font-weight="normal" stroke="#555" stroke-width="0.3" textLength="13.5" lengthAdjust="spacingAndGlyphs">%</text>
<text x="1175" y="633" font-size="13" fill="#555" text-anchor="start" font-weight="normal" stroke="#555" stroke-width="0.3" textLength="16.5" lengthAdjust="spacingAndGlyphs">log</text>
<text x="1210.5" y="633" font-size="13" fill="#2196f3" text-anchor="start" font-weight="normal" stroke="#2196f3" stroke-width="0.3" textLength="26" lengthAdjust="spacingAndGlyphs">auto</text>
<g transform="translate(1260.9,627.9)"><circle r="3.8" fill="none" stroke="#454545" stroke-width="1.7"/><line x1="4.30" y1="0.00" x2="6.90" y2="0.00" stroke="#454545" stroke-width="1.9"/><line x1="3.04" y1="3.04" x2="4.53" y2="4.53" stroke="#454545" stroke-width="1.9"/><line x1="0.00" y1="4.30" x2="0.00" y2="6.90" stroke="#454545" stroke-width="1.9"/><line x1="-3.04" y1="3.04" x2="-4.53" y2="4.53" stroke="#454545" stroke-width="1.9"/><line x1="-4.30" y1="0.00" x2="-6.90" y2="0.00" stroke="#454545" stroke-width="1.9"/><line x1="-3.04" y1="-3.04" x2="-4.53" y2="-4.53" stroke="#454545" stroke-width="1.9"/><line x1="-0.00" y1="-4.30" x2="-0.00" y2="-6.90" stroke="#454545" stroke-width="1.9"/><line x1="3.04" y1="-3.04" x2="4.53" y2="-4.53" stroke="#454545" stroke-width="1.9"/></g>
</svg></body></html>
